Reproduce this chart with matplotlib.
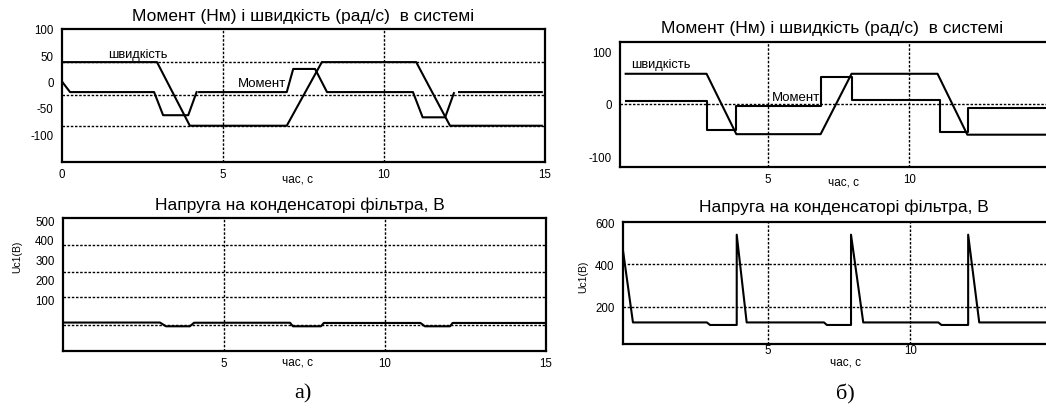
import numpy as np
import matplotlib
matplotlib.use('Agg')
import matplotlib.pyplot as plt

nan = np.nan

# a) top - speed and torque
t_speed_a = [0, 2.95, 3.97, 6.98, 8.07, 11.0, 12.05, 14.9]
speed_a = [37, 37, -84, -84, 37, 37, -84, -84]
t_moment_a = [0, 0.25, 2.86, 3.14, 3.92, 4.18, nan, 4.26, 6.98, 7.18, 7.86, 8.23, 10.9, 11.2, 11.9, 12.17, nan, 12.33, 14.9]
moment_a = [0, -20, -20, -64, -64, -20, nan, -20, -20, 24, 24, -20, -20, -68, -68, -22, nan, -20, -20]
grid_y_a_top = [37, -26, -84]
yticks_a_top = [100, 50, 0, -50, -100]

# a) bottom - capacitor voltage
t_u_a = [0, 3.01, 3.2, 3.94, 4.07, 7.05, 7.14, 8.01, 8.1, 11.1, 11.24, 12.02, 12.1, 14.97]
u_a = [-18, -18, -37, -37, -19, -19, -37, -37, -20, -20, -37, -37, -20, -20]
grid_y_a_bot = [375, 238, 111, -30]
yticks_a_bot = [500, 400, 300, 200, 100]

# b) top - speed and torque
t_speed_b = [0, 2.85, 3.9, 6.87, 7.96, 10.99, 12.04, 15.2]
speed_b = [57, 57, -57, -57, 57, 57, -58, -58]
t_moment_b = [0, 2.85, 2.85, 3.9, 3.9, 6.87, 6.87, 7.97, 7.97, 11.09, 11.09, 12.08, 12.08, 15.2]
moment_b = [6, 6, -49, -49, -4, -4, 50, 50, 8, 8, -52, -52, -7, -7]
grid_y_b_top = [0]
yticks_b_top = [100, 0, -100]

# b) bottom - capacitor voltage
t_u_b = [-0.1, 0.25, 2.85, 2.96, 3.9, 3.9, 4.25, 6.97, 7.07, 7.92, 7.92, 8.35, 10.99, 11.1, 12.04, 12.04, 12.43, 15.2]
u_b = [465, 125, 125, 113, 113, 540, 125, 125, 113, 113, 540, 125, 125, 113, 113, 540, 125, 125]
grid_y_b_bot = [400, 200]
yticks_b_bot = [600, 400, 200]

grid_x = [5, 10]

title_top = 'Момент (Нм) і швидкість (рад/с)  в системі'
title_bot = 'Напруга на конденсаторі фільтра, В'

plt.rcParams['font.family'] = ['Liberation Sans', 'DejaVu Sans']

W, H = 1046, 414
fig = plt.figure(figsize=(W / 100, H / 100), dpi=100)


def box(x0, y0, x1, y1):
    # pixel box (from top-left) -> figure fraction rect
    return [x0 / W, 1 - y1 / H, (x1 - x0) / W, (y1 - y0) / H]


def ftext(x, y, s, **kw):
    fig.text(x / W, 1 - y / H, s, **kw)


def setup(ax, xlim, ylim, yticks, xticks, gy, xpad, ypad=6):
    ax.set_xlim(*xlim)
    ax.set_ylim(*ylim)
    ax.set_yticks(yticks)
    ax.set_yticklabels([str(v) for v in yticks])
    ax.set_xticks(xticks)
    ax.set_xticklabels([str(v) for v in xticks])
    ax.tick_params(length=0, labelsize=8.3, pad=ypad, axis='y')
    ax.tick_params(length=0, labelsize=8.3, pad=xpad, axis='x')
    for s in ax.spines.values():
        s.set_linewidth(1.6)
    for g in gy:
        ax.axhline(g, color='black', lw=1.0, ls=(0, (1.8, 1.2)), zorder=1)
    for g in grid_x:
        ax.axvline(g, color='black', lw=1.0, ls=(0, (1.8, 1.2)), zorder=1)


lw = 1.5

# ---- a) top
ax1 = fig.add_axes(box(62, 30, 545, 163))
ax1.plot(t_speed_a, speed_a, color='black', lw=lw)
ax1.plot(t_moment_a, moment_a, color='black', lw=lw)
setup(ax1, (0, 15), (-153, 100), yticks_a_top, [0, 5, 10, 15], grid_y_a_top, xpad=4)
ax1.text(2.36, 53, 'швидкість', fontsize=9.3, ha='center', va='center')
ax1.text(6.95, -3, 'Момент', fontsize=9.5, ha='right', va='center')

# ---- a) bottom
ax2 = fig.add_axes(box(63, 219, 546, 352))
ax2.plot(t_u_a, u_a, color='black', lw=lw)
setup(ax2, (0, 15), (-162, 511), yticks_a_bot, [5, 10, 15], grid_y_a_bot, xpad=4)

# ---- b) top
ax3 = fig.add_axes(box(620, 43, 1057, 168))
ax3.plot(t_speed_b, speed_b, color='black', lw=lw)
ax3.plot(t_moment_b, moment_b, color='black', lw=lw)
setup(ax3, (-0.2, 15.2), (-119, 117), yticks_b_top, [5, 10, 15], grid_y_b_top, xpad=4)
ax3.text(1.24, 75, 'швидкість', fontsize=9.3, ha='center', va='center')
ax3.text(5.14, 13, 'Момент', fontsize=9.5, ha='left', va='center')

# ---- b) bottom
ax4 = fig.add_axes(box(623, 223, 1058, 345))
ax4.plot(t_u_b, u_b, color='black', lw=lw)
setup(ax4, (-0.1, 15.2), (23, 600), yticks_b_bot, [5, 10, 15], grid_y_b_bot, xpad=0)

# titles, axis labels, captions
ftext(303, 16, title_top, fontsize=12.5, ha='center', va='center')
ftext(832, 28, title_top, fontsize=12.5, ha='center', va='center')
ftext(300, 205, title_bot, fontsize=12.5, ha='center', va='center')
ftext(844, 207, title_bot, fontsize=12.5, ha='center', va='center')

ftext(298, 180, 'час, с', fontsize=8.5, ha='center', va='center')
ftext(298, 363, 'час, с', fontsize=8.5, ha='center', va='center')
ftext(844, 183, 'час, с', fontsize=8.5, ha='center', va='center')
ftext(845, 363, 'час, с', fontsize=8.5, ha='center', va='center')

ftext(17, 257, 'Uc1(B)', fontsize=7.5, ha='center', va='center', rotation=90)
ftext(583, 277, 'Uc1(B)', fontsize=7.5, ha='center', va='center', rotation=90)

ftext(303, 394, 'а)', fontsize=16, ha='center', va='center', family='Liberation Serif')
ftext(845, 394, 'б)', fontsize=16, ha='center', va='center', family='Liberation Serif')

fig.savefig('out.png', dpi=100)
